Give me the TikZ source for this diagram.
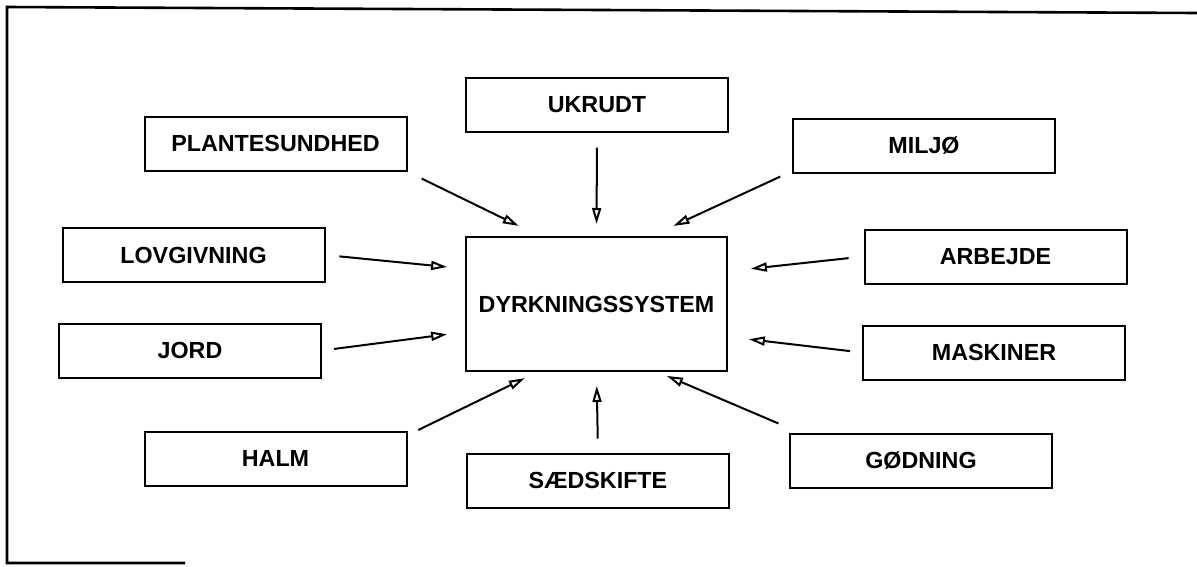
\documentclass[tikz,border=0pt]{standalone}
\usepackage{fontspec}
\setmainfont{Liberation Sans}
\usepackage{tikz}
\usetikzlibrary{arrows.meta}

\begin{document}
\begin{tikzpicture}[x=1pt, y=-1pt,
  boks/.style={draw, line width=2pt, minimum width=262pt, minimum height=54pt,
    inner sep=0pt, font=\fontsize{23.3}{27}\selectfont\bfseries},
  pil/.style={line width=2pt, -{Triangle[open, length=16pt, width=9pt]}}]

\useasboundingbox (0,0) rectangle (1197,566);

% Ramme
\draw[line width=2.6pt] (185,563) -- (7,563) -- (7,7) -- (1197,13);

% Dyrkningssystemet i midten
\node (sys) at (596.5,304) [boks, minimum width=261pt, minimum height=134pt] {DYRKNINGSSYSTEM};

% Faktorer rundt om
\node (plante) at (275.5,143.5) [boks] {PLANTESUNDHED};
\node (ukrudt) at (597,104.5) [boks] {UKRUDT};
\node (miljo) at (924,145.5) [boks] {MILJØ};
\node (lov) at (193.5,255) [boks] {LOVGIVNING};
\node (jord) at (190,350.5) [boks] {JORD};
\node (arbejde) at (995.5,256.5) [boks] {ARBEJDE};
\node (maskiner) at (994,352.5) [boks] {MASKINER};
\node (halm) at (275.5,458.5) [boks] {HALM};
\node (saed) at (598,480.5) [boks] {SÆDSKIFTE};
\node (godning) at (921,460.5) [boks] {GØDNING};

% Pile ind mod systemet
\draw[pil, shorten <=16pt, shorten >=23pt] (plante.348) -- (sys.130);
\draw[pil, shorten <=15pt, shorten >=12pt] (ukrudt.south) -- (sys.north);
\draw[pil, shorten <=13pt, shorten >=24pt] (miljo.191) -- (sys.51);
\draw[pil, shorten <=14pt, shorten >=18pt] (lov.east) -- (sys.165);
\draw[pil, shorten <=12pt, shorten >=18pt] (jord.east) -- (sys.192);
\draw[pil, shorten <=15pt, shorten >=23pt] (arbejde.west) -- (sys.14);
\draw[pil, shorten <=12pt, shorten >=21pt] (maskiner.west) -- (sys.346);
\draw[pil, shorten <=12pt, shorten >=14pt] (halm.10) -- (sys.229);
\draw[pil, shorten <=14pt, shorten >=14pt] (saed.north) -- (sys.south);
\draw[pil, shorten <=23pt, shorten >=10pt] (godning.167) -- (sys.312);

\end{tikzpicture}
\end{document}
